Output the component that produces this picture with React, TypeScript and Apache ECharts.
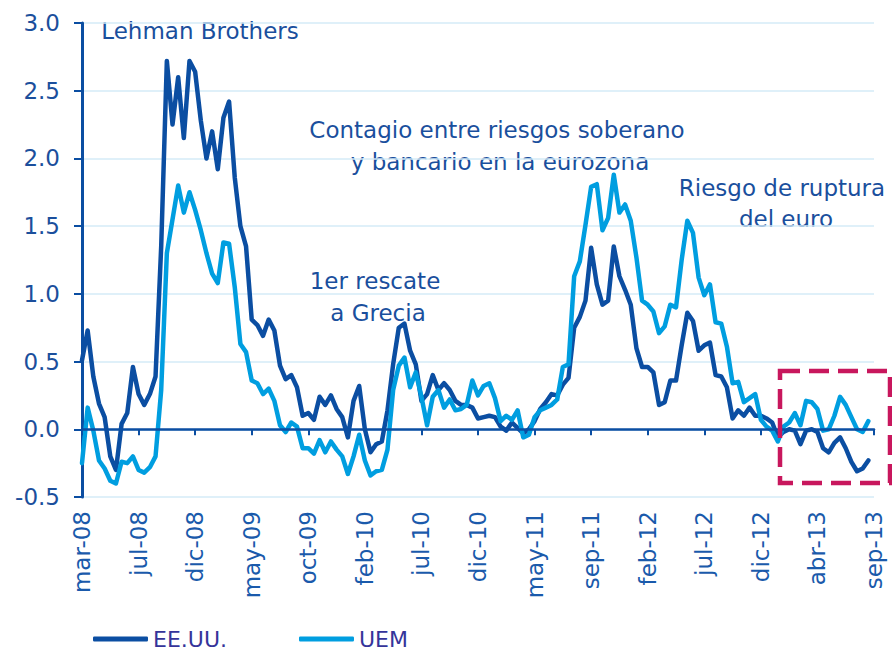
import React, { useEffect, useRef } from "react";
import * as echarts from "echarts";

// Tick labels along the time axis (one every 10 biweekly observations)
const TICK_LABELS = [
  "mar-08", "jul-08", "dic-08", "may-09", "oct-09", "feb-10", "jul-10", "dic-10",
  "may-11", "sep-11", "feb-12", "jul-12", "dic-12", "abr-13", "sep-13",
];
const STEPS_PER_LABEL = 10;

// EE.UU. (biweekly readings)
const US_VALUES = [
  0.51, 0.73, 0.39, 0.19, 0.09, -0.20, -0.30, 0.04, 0.12, 0.46,
  0.26, 0.18, 0.26, 0.39, 1.35, 2.72, 2.25, 2.60, 2.15, 2.72,
  2.64, 2.28, 2.00, 2.20, 1.92, 2.30, 2.42, 1.86, 1.50, 1.35,
  0.81, 0.77, 0.69, 0.81, 0.73, 0.47, 0.37, 0.40, 0.31, 0.10,
  0.12, 0.07, 0.24, 0.18, 0.25, 0.15, 0.09, -0.06, 0.21, 0.32,
  0.00, -0.17, -0.11, -0.09, 0.14, 0.48, 0.75, 0.78, 0.58, 0.48,
  0.21, 0.26, 0.40, 0.29, 0.34, 0.29, 0.21, 0.18, 0.18, 0.16,
  0.08, 0.09, 0.10, 0.09, 0.02, -0.01, 0.05, 0.01, -0.03, 0.00,
  0.06, 0.15, 0.20, 0.26, 0.25, 0.33, 0.38, 0.75, 0.83, 0.95,
  1.34, 1.07, 0.92, 0.95, 1.35, 1.13, 1.03, 0.92, 0.60, 0.46,
  0.46, 0.42, 0.18, 0.20, 0.36, 0.36, 0.62, 0.86, 0.80, 0.58,
  0.62, 0.64, 0.40, 0.39, 0.31, 0.08, 0.14, 0.10, 0.16, 0.10,
  0.10, 0.08, 0.05, -0.06, -0.02, 0.00, -0.01, -0.11, -0.01, 0.00,
  -0.02, -0.14, -0.17, -0.10, -0.06, -0.14, -0.24, -0.31, -0.29, -0.23,
];

// UEM (biweekly readings)
const EMU_VALUES = [
  -0.25, 0.16, -0.01, -0.23, -0.29, -0.38, -0.40, -0.24, -0.25, -0.20,
  -0.30, -0.32, -0.28, -0.20, 0.29, 1.30, 1.55, 1.80, 1.60, 1.75,
  1.62, 1.47, 1.30, 1.15, 1.08, 1.38, 1.37, 1.05, 0.63, 0.57,
  0.36, 0.34, 0.26, 0.30, 0.21, 0.03, -0.02, 0.05, 0.02, -0.14,
  -0.14, -0.18, -0.08, -0.17, -0.09, -0.15, -0.20, -0.33, -0.20, -0.04,
  -0.23, -0.34, -0.31, -0.30, -0.15, 0.29, 0.47, 0.53, 0.31, 0.42,
  0.24, 0.03, 0.24, 0.29, 0.16, 0.22, 0.14, 0.15, 0.18, 0.36,
  0.25, 0.32, 0.34, 0.23, 0.06, 0.10, 0.07, 0.14, -0.06, -0.04,
  0.09, 0.14, 0.16, 0.18, 0.22, 0.46, 0.48, 1.13, 1.24, 1.51,
  1.79, 1.81, 1.47, 1.56, 1.88, 1.60, 1.66, 1.54, 1.27, 0.95,
  0.92, 0.87, 0.71, 0.76, 0.92, 0.90, 1.25, 1.54, 1.45, 1.12,
  0.99, 1.07, 0.79, 0.78, 0.61, 0.34, 0.35, 0.20, 0.23, 0.26,
  0.07, 0.02, -0.01, -0.09, 0.02, 0.05, 0.12, 0.03, 0.21, 0.20,
  0.15, -0.01, 0.00, 0.10, 0.24, 0.18, 0.09, 0.00, -0.02, 0.06,
];

const SERIES_NAMES = ["EE.UU.", "UEM"];

const CATEGORIES = Array.from(
  { length: (TICK_LABELS.length - 1) * STEPS_PER_LABEL + 1 },
  (_, i) =>
    i % STEPS_PER_LABEL === 0
      ? TICK_LABELS[i / STEPS_PER_LABEL]
      : `${TICK_LABELS[Math.floor(i / STEPS_PER_LABEL)]}#${i % STEPS_PER_LABEL}`
);

const FONT = '"DejaVu Sans", "Noto Sans", sans-serif';
const DARK = "#0b4ea2";
const LIGHT = "#009ee0";
const AXIS = "#0b4ea2";
const TEXT = "#1a4f9d";

function note(text: string, x: number, y: number) {
  return {
    type: "text",
    x,
    y,
    silent: true,
    style: {
      text,
      fontSize: 23,
      fontFamily: FONT,
      fill: TEXT,
      align: "center",
      verticalAlign: "middle",
    },
  };
}

export default function App() {
  const ref = useRef<HTMLDivElement>(null);

  useEffect(() => {
    if (!ref.current) return;
    const chart = echarts.init(ref.current, null, { renderer: "svg" });
    chart.setOption({
      animation: false,
      backgroundColor: "#ffffff",
      textStyle: { fontFamily: FONT },
      grid: { left: 82, right: 18, top: 23, bottom: 161, containLabel: false },
      legend: {
        data: SERIES_NAMES,
        left: 93,
        top: 628,
        padding: 0,
        icon: "roundRect",
        itemWidth: 55,
        itemHeight: 5,
        itemGap: 72,
        textStyle: { fontSize: 22, color: "#35349a", fontFamily: FONT },
      },
      xAxis: [
        {
          type: "category",
          data: CATEGORIES,
          boundaryGap: false,
          position: "bottom",
          axisLine: { show: true, onZero: true, lineStyle: { color: AXIS, width: 2.5 } },
          axisTick: { show: true, interval: STEPS_PER_LABEL - 1, length: 6, lineStyle: { color: AXIS, width: 2 } },
          axisLabel: { show: false },
          splitLine: { show: false },
          z: 5,
        },
        {
          type: "category",
          data: CATEGORIES,
          boundaryGap: false,
          position: "bottom",
          axisLine: { show: false, onZero: false },
          axisTick: { show: false },
          splitLine: { show: false },
          axisLabel: {
            interval: STEPS_PER_LABEL - 1,
            rotate: 90,
            margin: 14,
            fontSize: 23,
            color: "#1a5aab",
            fontFamily: FONT,
            formatter: (v: string) => v,
          },
        },
      ],
      yAxis: {
        type: "value",
        min: -0.5,
        max: 3,
        interval: 0.5,
        axisLine: { show: true, onZero: false, lineStyle: { color: AXIS, width: 3 } },
        axisTick: { show: true, length: 8, lineStyle: { color: AXIS, width: 2 } },
        axisLabel: {
          formatter: (v: number) => v.toFixed(1),
          fontSize: 23,
          color: "#1b4f9c",
          fontFamily: FONT,
          margin: 22,
        },
        splitLine: { show: true, lineStyle: { color: "#d5ebf7", width: 1.5 } },
      },
      series: [
        {
          name: SERIES_NAMES[0],
          type: "line",
          xAxisIndex: 0,
          data: US_VALUES,
          showSymbol: false,
          symbol: "none",
          color: DARK,
          lineStyle: { color: DARK, width: 4.5, join: "round", cap: "round" },
          z: 3,
        },
        {
          name: SERIES_NAMES[1],
          type: "line",
          xAxisIndex: 0,
          data: EMU_VALUES,
          showSymbol: false,
          symbol: "none",
          color: LIGHT,
          lineStyle: { color: LIGHT, width: 4.5, join: "round", cap: "round" },
          z: 4,
        },
      ],
      graphic: [
        note("Lehman Brothers", 200, 31),
        note("Contagio entre riesgos soberano", 497, 130),
        note("y bancario en la eurozona", 500, 162),
        note("1er rescate", 375, 281),
        note("a Grecia", 378, 313),
        note("Riesgo de ruptura", 782, 188),
        note("del euro", 786, 219),
        {
          type: "rect",
          silent: true,
          shape: { x: 780, y: 371, width: 110, height: 112 },
          style: { fill: "none", stroke: "#c8175d", lineWidth: 4.5, lineDash: [20, 9] },
          z: 10,
        },
      ],
    });
    return () => chart.dispose();
  }, []);

  return (
    <div
      ref={ref}
      style={{ position: "absolute", left: 0, top: 0, width: 892, height: 658, background: "#fff" }}
    />
  );
}
